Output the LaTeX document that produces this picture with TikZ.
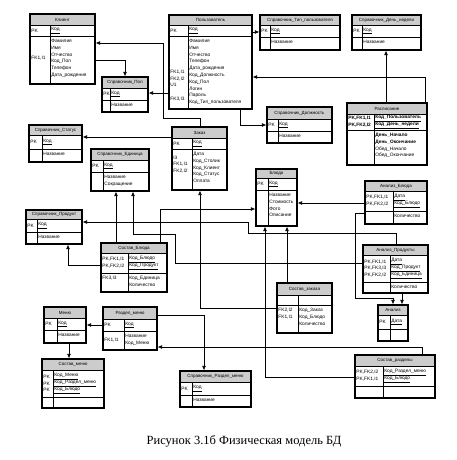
\documentclass[tikz,border=0pt]{standalone}
\usepackage{fontspec}
\setmainfont{Liberation Serif}
\newfontfamily\ersans{Liberation Sans}
\usepackage{tikz}
\usetikzlibrary{arrows.meta, calc, fit, positioning}

\newcommand{\erfont}{\ersans\fontsize{4.8}{6.8}\selectfont}
\newcommand{\ertitlefont}{\ersans\fontsize{4.5}{5}\selectfont}

% entity: name, title, left, top, right, bottom, header bottom, pk bottom, divider
\newcommand{\entity}[9]{%
  \fill[hdrfill] (#3,#4) rectangle (#5,#7);
  \draw[rowline] (#3,#7) -- (#5,#7) (#3,#8) -- (#5,#8) (#9,#7) -- (#9,#6);
  \node[entbox, fit={(#3,#4) (#5,#6)}] (#1) {};
  \node[enttitle] at ($(#3,#4)!.5!(#5,#7)$) {#2};
  \coordinate (#1-pkl) at ($(#3,#7)!.5!(#3,#8)$);
  \coordinate (#1-pk) at ($(#9,#7)!.5!(#9,#8)$);
  \coordinate (#1-bl) at (#3,#8);
  \coordinate (#1-b) at (#9,#8);
}

\begin{document}
\begin{tikzpicture}[x=1pt, y=-1pt]
    % Styles
    \tikzstyle{entbox} = [draw=black, line width=1.1pt, inner sep=0pt]
    \tikzstyle{hdrfill} = [fill=gray!40]
    \tikzstyle{rowline} = [line width=0.7pt]
    \tikzstyle{enttitle} = [font=\ertitlefont, inner sep=0pt]
    \tikzstyle{keylbl} = [anchor=west, align=left, font=\erfont, inner xsep=1.2pt, inner ysep=0pt]
    \tikzstyle{attr} = [anchor=north west, align=left, font=\erfont, inner xsep=1.2pt, inner ysep=3pt]
    \tikzstyle{fk} = [->, >={Latex[length=4.5pt,width=3.8pt]}, line width=0.7pt]
    \tikzstyle{caption} = [font=\fontsize{12.5}{14}\selectfont]

    \useasboundingbox (0,0) rectangle (457,460);

    % Entities
    \entity{klient}{Клиент}{30}{14}{95}{84}{25}{36}{50}
    \node[keylbl] at (klient-pkl) {PK};
    \node[keylbl] at (klient-pk) {\underline{Код}};
    \node[attr] at (klient-bl) {\mbox{}\\\mbox{}\\\mbox{}\\FK1,I1};
    \node[attr] at (klient-b) {Фамилия\\Имя\\Отчество\\Код\_Пол\\Телефон\\Дата\_рождения};

    \entity{pol}{Справочник\_Пол}{102}{77}{148}{112}{88}{100}{110}
    \node[keylbl] at (pol-pkl) {PK};
    \node[keylbl] at (pol-pk) {\underline{Код}};
    \node[attr] at (pol-b) {Название};

    \entity{polz}{Пользователь}{169}{15}{252}{109}{25}{36}{188}
    \node[keylbl] at (polz-pkl) {PK};
    \node[keylbl] at (polz-pk) {\underline{Код}};
    \node[attr] at (polz-bl) {\mbox{}\\\mbox{}\\\mbox{}\\\mbox{}\\\mbox{}\\FK1,I1\\FK2,I2\\U1\\\mbox{}\\FK3,I3};
    \node[attr] at (polz-b) {Фамилия\\Имя\\Отчество\\Телефон\\Дата\_рождения\\Код\_Должность\\Код\_Пол\\Логин\\Пароль\\Код\_Тип\_пользователя};

    \entity{tip}{Справочник\_Тип\_пользователя}{260}{15}{340}{50}{25}{37}{270}
    \node[keylbl] at (tip-pkl) {PK};
    \node[keylbl] at (tip-pk) {\underline{Код}};
    \node[attr] at (tip-b) {Название};

    \entity{den}{Справочник\_День\_недели}{352}{15}{421}{50}{25}{37}{362}
    \node[keylbl] at (den-pkl) {PK};
    \node[keylbl] at (den-pk) {\underline{Код}};
    \node[attr] at (den-b) {Название};

    \entity{dolzh}{Справочник\_Должность}{267}{107}{332}{143}{119}{131}{278}
    \node[keylbl] at (dolzh-pkl) {PK};
    \node[keylbl] at (dolzh-pk) {\underline{Код}};
    \node[attr] at (dolzh-b) {Название};

    \entity{raspis}{Расписание}{347}{103}{427}{165}{114}{130}{374}
    \node[keylbl] at (raspis-pkl) {\textbf{PK,FK1,I1}\\\textbf{PK,FK2,I2}};
    \node[keylbl] at (raspis-pk) {\textbf{\underline{Код\_Пользователь}}\\\textbf{\underline{Код\_День\_недели}}};
    \node[attr] at (raspis-b) {\textbf{День\_Начало}\\\textbf{День\_Окончание}\\Обед\_Начало\\Обед\_Окончание};

    \entity{status}{Справочник\_Статус}{29}{125}{82}{162}{135}{149}{42}
    \node[keylbl] at (status-pkl) {PK};
    \node[keylbl] at (status-pk) {\underline{Код}};
    \node[attr] at (status-b) {Название};

    \entity{zakaz}{Заказ}{172}{127}{227}{190}{138}{149}{192}
    \node[keylbl] at (zakaz-pkl) {PK};
    \node[keylbl] at (zakaz-pk) {\underline{Код}};
    \node[attr] at (zakaz-bl) {\mbox{}\\I3\\FK1,I1\\FK2,I2};
    \node[attr] at (zakaz-b) {Дата\\Код\_Столик\\Код\_Клиент\\Код\_Статус\\Оплата};

    \entity{edin}{Справочник\_Единица}{91}{149}{149}{191}{160}{172}{103}
    \node[keylbl] at (edin-pkl) {PK};
    \node[keylbl] at (edin-pk) {\underline{Код}};
    \node[attr] at (edin-b) {Название\\Сокращение};

    \entity{blyudo}{Блюдо}{256}{169}{297}{226}{178}{190}{268}
    \node[keylbl] at (blyudo-pkl) {PK};
    \node[keylbl] at (blyudo-pk) {\underline{Код}};
    \node[attr] at (blyudo-b) {Название\\Стоимость\\Фото\\Описание};

    \entity{anbl}{Анализ\_Блюда}{365}{181}{427}{224}{191}{211}{393}
    \node[keylbl] at (anbl-pkl) {PK,FK1,I1\\PK,FK2,I2};
    \node[keylbl] at (anbl-pk) {\underline{Дата}\\\underline{Код\_Блюдо}};
    \node[attr] at (anbl-b) {Количество};

    \entity{prod}{Справочник\_Продукт}{26}{210}{82}{244}{219}{232}{37}
    \node[keylbl] at (prod-pkl) {PK};
    \node[keylbl] at (prod-pk) {\underline{Код}};
    \node[attr] at (prod-b) {Название};

    \entity{sostbl}{Состав\_Блюда}{101}{243}{167}{292}{253}{273}{128}
    \node[keylbl] at (sostbl-pkl) {PK,FK1,I1\\PK,FK2,I2};
    \node[keylbl] at (sostbl-pk) {\underline{Код\_Блюдо}\\\underline{Код\_Продукт}};
    \node[attr] at (sostbl-bl) {FK3,I3};
    \node[attr] at (sostbl-b) {Код\_Единица\\Количество};

    \entity{anpr}{Анализ\_Продукты}{363}{245}{428}{293}{255}{282}{390}
    \node[keylbl] at (anpr-pkl) {PK,FK1,I1\\PK,FK3,I3\\PK,FK2,I2};
    \node[keylbl] at (anpr-pk) {\underline{Дата}\\\underline{Код\_Продукт}\\\underline{Код\_Единица}};
    \node[attr] at (anpr-b) {Количество};

    \entity{sostzak}{Состав\_заказа}{277}{283}{332}{333}{295}{305}{298}
    \node[attr] at (sostzak-bl) {FK2,I2\\FK1,I1};
    \node[attr] at (sostzak-b) {Код\_Заказ\\Код\_Блюдо\\Количество};

    \entity{analiz}{Анализ}{378}{305}{408}{341}{315}{329}{390}
    \node[keylbl] at (analiz-pkl) {PK};
    \node[keylbl] at (analiz-pk) {\underline{Дата}};

    \entity{menu}{Меню}{44}{307}{86}{343}{318}{330}{57}
    \node[keylbl] at (menu-pkl) {PK};
    \node[keylbl] at (menu-pk) {\underline{Код}};
    \node[attr] at (menu-b) {Название};

    \entity{razdel}{Раздел\_меню}{103}{307}{157}{350}{319}{331}{124}
    \node[keylbl] at (razdel-pkl) {PK};
    \node[keylbl] at (razdel-pk) {\underline{Код}};
    \node[attr] at (razdel-bl) {\mbox{}\\FK1,I1};
    \node[attr] at (razdel-b) {Название\\Код\_Меню};

    \entity{sostmenu}{Состав\_меню}{42}{359}{104}{408}{370}{397}{53}
    \node[keylbl] at (sostmenu-pkl) {PK\\PK\\PK};
    \node[keylbl] at (sostmenu-pk) {\underline{Код\_Меню}\\\underline{Код\_Раздел\_меню}\\\underline{Код\_Блюдо}};

    \entity{sprazd}{Справочник\_Раздел\_меню}{180}{371}{251}{407}{382}{395}{192}
    \node[keylbl] at (sprazd-pkl) {PK};
    \node[keylbl] at (sprazd-pk) {\underline{Код}};
    \node[attr] at (sprazd-b) {Название};

    \entity{sostraz}{Состав\_разделы}{355}{355}{435}{398}{366}{386}{383}
    \node[keylbl] at (sostraz-pkl) {PK,FK2,I2\\PK,FK1,I1};
    \node[keylbl] at (sostraz-pk) {\underline{Код\_Раздел\_меню}\\\underline{Код\_Блюдо}};

    % Relations
    \draw[fk] (klient.east |- 0,60) -| (125,0 |- pol.north);
    \draw[fk] (polz.west |- 0,93) -- (pol.east |- 0,93);
    \draw[fk] (200,0 |- zakaz.north) |- (163,118) |- (klient.east |- 0,43);
    \draw[fk] (polz.east |- 0,32) -- (tip.west |- 0,32);
    \draw[fk] (240,0 |- polz.south) |- (dolzh.west |- 0,125);
    \draw[fk] (425,0 |- raspis.north) |- (polz.east |- 0,77);
    \draw[fk] (386,0 |- raspis.north) -- (386,0 |- den.south);
    \draw[fk] (zakaz.west |- 0,137) -- (status.east |- 0,137);
    \draw[fk] (sostzak.west |- 0,308) -| (200,0 |- zakaz.south);
    \draw[fk] (287,0 |- sostzak.north) -- (287,0 |- blyudo.south);
    \draw[fk] (160,0 |- sostbl.north) |- (blyudo.west |- 0,209);
    \draw[fk] (116,0 |- sostbl.north) -- (116,0 |- edin.south);
    \draw[fk] (sostbl.west |- 0,265) -| (68,0 |- prod.south);
    \draw[fk] (anbl.west |- 0,203) -- (blyudo.east |- 0,203);
    \draw[fk] (anbl.west |- 0,213) -| (355,298) -| (393,0 |- analiz.north);
    \draw[fk] (402,0 |- anpr.south) -- (402,0 |- analiz.north);
    \draw[fk] (396,0 |- anpr.north) |- (248,233) |- (prod.east |- 0,222);
    \draw[fk] (anpr.west |- 0,263) -| (175,234) -| (133,0 |- edin.south);
    \draw[fk] (sostraz.west |- 0,377) -| (265,0 |- blyudo.south);
    \draw[fk] (422,0 |- sostraz.north) |- (razdel.east |- 0,347);
    \draw[fk] (razdel.west |- 0,325) -- (menu.east |- 0,325);
    \draw[fk] (razdel.east |- 0,315) -| (204,0 |- sprazd.north);
    \draw[fk] (69,0 |- menu.south) -- (69,0 |- sostmenu.north);

    % Caption
    \node[caption] (cap) at (244,441) {Рисунок 3.1б Физическая модель БД};
\end{tikzpicture}
\end{document}
